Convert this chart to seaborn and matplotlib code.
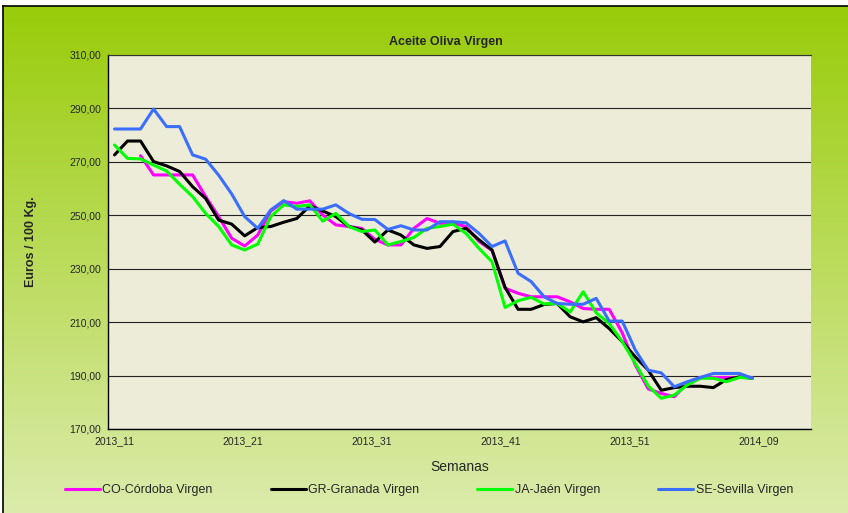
# Aceite Oliva Virgen - weekly prices by province
import numpy as np
import pandas as pd
import seaborn as sns
import matplotlib.pyplot as plt
from matplotlib.lines import Line2D

# week labels (2013_11 ... 2014_08)
semanas = ["2013_%02d" % w for w in range(11, 53)] + ["2014_%02d" % w for w in range(1, 9)]

nan = np.nan
cordoba = [nan, nan, 272.3, 265.1, 265.1, 265.1, 265.1, 257.0, 249.5, 241.4,
           238.5, 242.6, 251.6, 255.1, 254.5, 255.4, 250.1, 246.4, 245.8, 245.1,
           241.0, 238.9, 238.9, 245.1, 248.8, 247.0, 247.0, 245.8, 240.2, 236.8,
           222.7, 220.8, 219.5, 219.5, 219.5, 217.6, 215.1, 214.8, 214.8, 206.0,
           194.0, 185.0, 183.3, 182.1, 187.1, 189.3, 189.3, 189.3, 189.3, 189.3]
granada = [272.6, 277.8, 277.8, 270.1, 268.5, 266.4, 260.7, 256.3, 248.2, 246.7,
           242.3, 245.4, 245.8, 247.4, 248.8, 253.5, 251.6, 249.5, 245.8, 244.5,
           240.0, 244.5, 242.6, 238.9, 237.6, 238.3, 243.9, 245.1, 240.8, 237.0,
           223.0, 214.8, 214.8, 216.6, 217.0, 212.0, 210.1, 211.7, 207.6, 202.7,
           197.0, 192.0, 184.5, 185.5, 186.0, 186.0, 185.5, 188.5, 189.5, 189.0]
jaen = [276.3, 271.3, 271.1, 268.8, 266.6, 261.6, 257.0, 250.7, 245.8, 238.9,
        237.0, 239.2, 249.5, 253.9, 253.3, 253.9, 247.8, 250.7, 245.8, 243.9,
        244.5, 238.9, 240.2, 241.7, 245.1, 245.8, 246.7, 243.2, 237.6, 232.6,
        215.5, 218.0, 219.3, 216.8, 217.0, 213.8, 221.4, 213.5, 209.5, 202.7,
        194.6, 186.1, 181.5, 182.7, 186.5, 189.0, 189.0, 187.7, 189.3, 189.0]
sevilla = [282.3, 282.3, 282.3, 289.8, 283.2, 283.2, 272.6, 271.0, 265.0, 258.0,
           249.5, 245.1, 252.0, 255.5, 252.3, 252.3, 252.3, 253.9, 250.7, 248.5,
           248.4, 244.7, 246.1, 244.5, 244.5, 247.6, 247.6, 247.2, 243.2, 238.3,
           240.4, 228.3, 225.2, 219.5, 217.0, 216.7, 216.7, 218.9, 210.4, 210.4,
           199.6, 192.0, 191.0, 185.8, 187.7, 189.3, 190.8, 190.8, 190.8, 189.0]

series = {
    "CO-Córdoba Virgen": cordoba,
    "GR-Granada Virgen": granada,
    "JA-Jaén Virgen": jaen,
    "SE-Sevilla Virgen": sevilla,
}
colores = {
    "CO-Córdoba Virgen": "#FF00FF",
    "GR-Granada Virgen": "#000000",
    "JA-Jaén Virgen": "#00FF00",
    "SE-Sevilla Virgen": "#3A6EFF",
}
tick_labels = ["2013_11", "2013_21", "2013_31", "2013_41", "2013_51", "2014_09"]

rows = []
for nombre, vals in series.items():
    for i, v in enumerate(vals):
        rows.append({"idx": i, "semana": semanas[i], "serie": nombre, "precio": v})
df = pd.DataFrame(rows)

sns.set_style("white")
plt.rcParams["font.family"] = ["Liberation Sans", "DejaVu Sans"]

fig = plt.figure(figsize=(8.48, 5.13), dpi=100)
fig.patch.set_facecolor("white")

# gradient background of the chart area
bg = fig.add_axes([3 / 848, 0, 1 - 3 / 848, 1 - 6 / 513], zorder=0)
top = np.array([0x99, 0xCC, 0x0A]) / 255
bot = np.array([0xDC, 0xEB, 0xAC]) / 255
t = np.linspace(0, 1, 256)[:, None]
grad = (top[None, :] * (1 - t) + bot[None, :] * t)[:, None, :]
bg.imshow(grad, aspect="auto", extent=[0, 1, 0, 1])
bg.set_xticks([])
bg.set_yticks([])
for s in ["right", "bottom"]:
    bg.spines[s].set_visible(False)
for s in ["left", "top"]:
    bg.spines[s].set_color("black")
    bg.spines[s].set_linewidth(1.2)

ax = fig.add_axes([108 / 848, 1 - 429 / 513, 703 / 848, 374 / 513], zorder=1)
ax.set_facecolor("#ECECD8")

sns.lineplot(data=df, x="idx", y="precio", hue="serie", palette=colores,
             linewidth=2.2, ax=ax, legend=False)

ax.set_xlim(-0.5, 53.5)
ax.set_ylim(170, 310)
ax.set_yticks(np.arange(170, 311, 20))
ax.set_yticklabels([("%.2f" % v).replace(".", ",") for v in np.arange(170, 311, 20)],
                   fontsize=7.5)
# Excel spaces the labels slightly tighter than the categories
ax.set_xticks(np.arange(len(tick_labels)) * 9.89)
ax.set_xticklabels(tick_labels, fontsize=7.5)
ax.tick_params(axis="both", direction="out", length=3, width=0.8, color="black", pad=2)
ax.grid(axis="y", color="#222222", linewidth=0.8)
ax.grid(axis="x", visible=False)
ax.set_axisbelow(True)
for s in ["left", "bottom"]:
    ax.spines[s].set_color("black")
    ax.spines[s].set_linewidth(1.0)
ax.spines["top"].set_color("#333333")
ax.spines["top"].set_linewidth(0.8)
ax.spines["right"].set_visible(False)

ax.set_xlabel("Semanas", fontsize=10, labelpad=10)
ax.set_ylabel("Euros / 100 Kg.", fontsize=9, fontweight="bold", labelpad=23)

fig.text(446 / 848, 1 - 42 / 513, "Aceite Oliva Virgen", ha="center", va="center",
         fontsize=9, fontweight="bold")

handles = [Line2D([0], [0], color=colores[n], linewidth=2.2) for n in series]
fig.legend(handles, list(series.keys()), loc="center", ncol=4,
           bbox_to_anchor=(429 / 848, 1 - 490 / 513), frameon=False, fontsize=9,
           handlelength=2.8, handletextpad=0.2, columnspacing=4.65)

fig.savefig("out.png", dpi=100)
